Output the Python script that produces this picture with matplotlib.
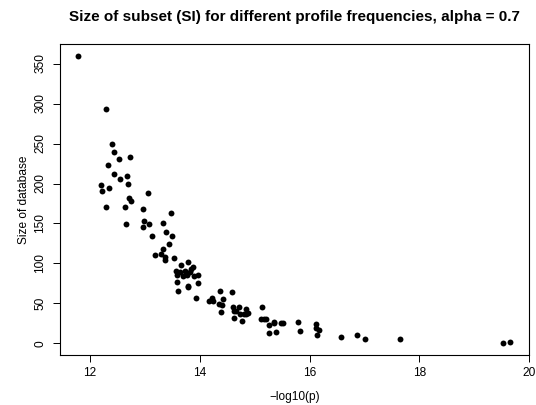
import matplotlib
matplotlib.use("Agg")
import matplotlib.pyplot as plt

plt.rcParams['font.family'] = ['Liberation Sans', 'DejaVu Sans']

# -log10(p) vs size of database
neglog_p = [11.77, 12.29, 12.40, 12.43, 12.53, 12.73, 12.33, 12.44, 12.68, 12.55,
            12.69, 12.19, 12.34, 12.22, 13.05, 12.71, 12.75, 12.29, 12.63, 12.96,
            13.47, 12.98, 13.32, 12.66, 13.07, 12.96, 13.39, 13.12, 13.50, 13.44,
            13.32, 13.18, 13.29, 13.36, 13.36, 13.52,
            13.57, 13.58, 13.63, 13.66, 13.70, 13.73, 13.76, 13.78, 13.82, 13.84,
            13.88, 13.89, 13.96, 13.96, 13.58, 13.61, 13.78, 13.78, 13.93,
            14.36, 14.17, 14.22, 14.24, 14.35, 14.40, 14.39, 14.42, 14.58, 14.60,
            14.63, 14.62, 14.65, 14.72, 14.74, 14.77, 14.80, 14.84, 14.84, 14.88,
            15.14, 15.12, 15.16, 15.20, 15.26, 15.26, 15.35, 15.35, 15.38, 15.47,
            15.52, 15.79, 15.83, 16.11, 16.12, 16.17, 16.13, 16.58, 16.87, 17.01,
            17.65, 19.52, 19.66]
db_size = [360, 293, 250, 240, 231, 233, 223, 212, 210, 206,
           200, 198, 194, 191, 188, 182, 178, 170, 170, 168,
           163, 153, 150, 149, 149, 146, 139, 134, 134, 124,
           118, 111, 112, 108, 104, 107,
           90, 86, 89, 98, 84, 91, 86, 102, 89, 93,
           95, 84, 86, 75, 77, 66, 72, 70, 57,
           66, 53, 57, 53, 49, 48, 39, 56, 64, 46,
           41, 32, 40, 46, 37, 28, 37, 43, 37, 38,
           45, 31, 31, 31, 23, 13, 27, 25, 14, 26,
           26, 27, 16, 24, 19, 17, 11, 7.5, 11, 6,
           5, 0, 2]

fig = plt.figure(figsize=(5.36, 4.05), dpi=100)
ax = fig.add_axes([60/536, 50/405, 469/536, 311/405])

ax.scatter(neglog_p, db_size, s=18, c='black', linewidths=0)

ax.set_xlim(11.45, 19.99)
ax.set_ylim(-14.4, 374.4)
ax.set_xticks([12, 14, 16, 18, 20])
ax.set_yticks([0, 50, 100, 150, 200, 250, 300, 350])

for sp in ax.spines.values():
    sp.set_linewidth(0.8)
ax.tick_params(direction='out', length=5, width=0.7, labelsize=8.6)
ax.tick_params(axis='x', pad=4)
ax.tick_params(axis='y', pad=5)
for lab in ax.get_yticklabels():
    lab.set_rotation(90)
    lab.set_va('center')

ax.set_xlabel('\u2212log10(p)', fontsize=8.6)
ax.set_ylabel('Size of database', fontsize=8.6)
ax.xaxis.set_label_coords(0.5, -0.116)
ax.yaxis.set_label_coords(-0.064, 0.5)

fig.text((60 + 529) / 2 / 536, 1 - 17/405,
         'Size of subset (SI) for different profile frequencies, alpha = 0.7',
         ha='center', va='center', fontsize=11, fontweight='bold')

fig.savefig('out.png', dpi=100)
